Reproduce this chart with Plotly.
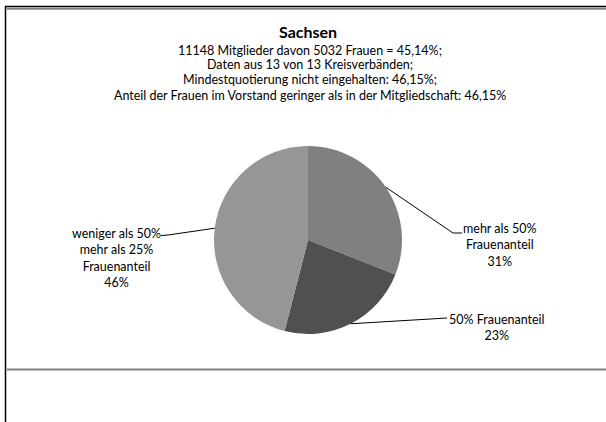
import math
import plotly.graph_objects as go

W, H = 606, 422

categories = ["mehr als 50%<br>Frauenanteil", "50% Frauenanteil", "weniger als 50%<br>mehr als 25%<br>Frauenanteil"]
values = [31, 23, 46]
pct_labels = ["31%", "23%", "46%"]
colors = ["#808080", "#505050", "#969696"]

title_text = "Sachsen"
subtitle_lines = [
    "11148 Mitglieder davon 5032 Frauen = 45,14%;",
    "Daten aus 13 von 13 Kreisverbänden;",
    "Mindestquotierung nicht eingehalten: 46,15%;",
    "Anteil der Frauen im Vorstand geringer als in der Mitgliedschaft: 46,15%",
]

# pie placement (pixels)
cx, cy, r = 308, 240, 94
# label anchor positions (pixels): text center
label_pos = [(500, 245), (497, 327), (116, 258)]
# leader-line intermediate / end points (pixels)
line_ends = [[(453, 233), (462, 233)], [(447, 318)], [(168, 235), (161, 235.5)]]

FONT = "Lato, Calibri, Carlito, sans-serif"

def px(x):
    return x / W

def py(y):
    return 1 - y / H

fig = go.Figure()
fig.add_trace(go.Pie(
    labels=categories,
    values=values,
    marker=dict(colors=colors, line=dict(width=0)),
    sort=False,
    direction="clockwise",
    rotation=0,
    textinfo="none",
    hoverinfo="label+percent",
    showlegend=False,
    domain=dict(x=[px(cx - r), px(cx + r)], y=[py(cy + r), py(cy - r)]),
))

shapes = []
annotations = []
total = sum(values)
cum = 0
for i, v in enumerate(values):
    mid = (cum + v / 2) / total * 2 * math.pi
    cum += v
    sx = cx + r * math.sin(mid)
    sy = cy - r * math.cos(mid)
    pts = [(sx, sy)] + line_ends[i]
    path = "M " + " L ".join(f"{px(x)},{py(y)}" for x, y in pts)
    shapes.append(dict(type="path", xref="paper", yref="paper", path=path,
                       line=dict(color="black", width=1)))
    lx, ly = label_pos[i]
    annotations.append(dict(x=px(lx), y=py(ly), xref="paper", yref="paper",
                            text=categories[i] + "<br>" + pct_labels[i],
                            showarrow=False, xanchor="center", yanchor="middle",
                            align="center", font=dict(family=FONT, size=12.5, color="black")))

annotations.append(dict(x=px(308), y=py(31), xref="paper", yref="paper", text="<b>" + title_text + "</b>",
                        showarrow=False, xanchor="center", yanchor="middle",
                        font=dict(family=FONT, size=16, color="black")))
for k, line in enumerate(subtitle_lines):
    annotations.append(dict(x=px(310), y=py(50 + 15 * k), xref="paper", yref="paper", text=line,
                            showarrow=False, xanchor="center", yanchor="middle",
                            font=dict(family=FONT, size=12.5, color="black")))

# frame lines
shapes += [
    dict(type="line", xref="paper", yref="paper", x0=px(5), x1=px(W), y0=py(6.5), y1=py(6.5),
         line=dict(color="black", width=1.5)),
    dict(type="line", xref="paper", yref="paper", x0=px(7), x1=px(W), y0=py(8.7), y1=py(8.7),
         line=dict(color="#808080", width=2)),
    dict(type="line", xref="paper", yref="paper", x0=px(5.5), x1=px(5.5), y0=py(6), y1=py(H),
         line=dict(color="black", width=1.5)),
    dict(type="line", xref="paper", yref="paper", x0=px(7), x1=px(W), y0=py(369.5), y1=py(369.5),
         line=dict(color="#808080", width=2)),
]

fig.update_layout(
    width=W, height=H,
    margin=dict(l=0, r=0, t=0, b=0),
    paper_bgcolor="white", plot_bgcolor="white",
    shapes=shapes, annotations=annotations,
)

fig.write_html("out.html", config={"displayModeBar": False},
               post_script="document.body.style.margin='0';document.body.style.overflow='hidden';")
